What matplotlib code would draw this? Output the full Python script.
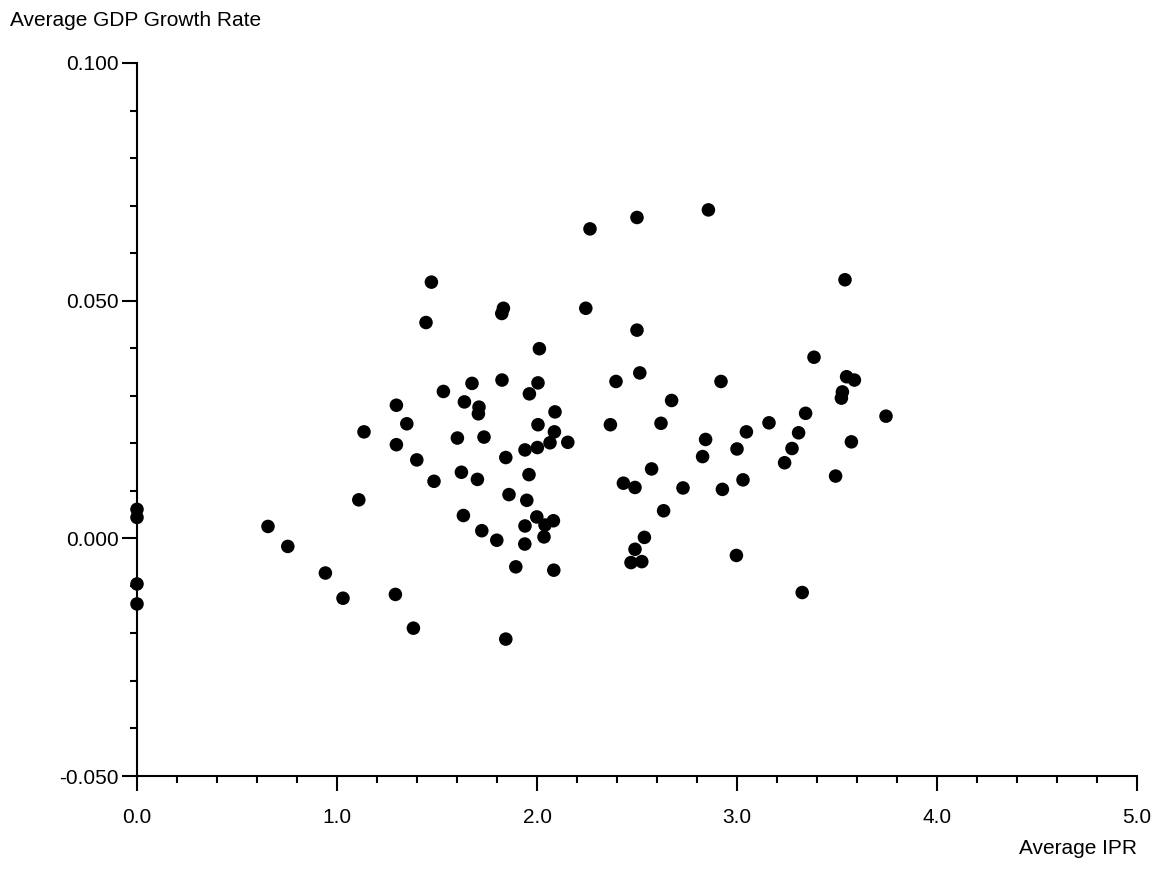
import matplotlib
matplotlib.use("Agg")
import matplotlib.pyplot as plt
from matplotlib.ticker import MultipleLocator, FormatStrFormatter

# average IPR score and average GDP growth rate, one entry per country
ipr = [0.0, 0.0, 0.0, 0.0,
       0.655, 0.754, 0.942, 1.03, 1.109, 1.135, 1.292, 1.297, 1.297, 1.349,
       1.382, 1.399, 1.445, 1.472, 1.485, 1.532, 1.602, 1.622, 1.632, 1.637,
       1.675, 1.702, 1.707, 1.71, 1.724, 1.735, 1.799, 1.824, 1.825, 1.832,
       1.844, 1.844, 1.86, 1.894, 1.939, 1.94, 1.94, 1.949, 1.96, 1.962,
       1.999, 2.002, 2.005, 2.005, 2.012, 2.035, 2.04, 2.065, 2.082, 2.084,
       2.087, 2.09, 2.154, 2.244, 2.265, 2.367, 2.395, 2.432, 2.47, 2.49,
       2.49, 2.50, 2.50, 2.514, 2.524, 2.537, 2.573, 2.62, 2.633, 2.673,
       2.73, 2.828, 2.843, 2.857, 2.92, 2.927, 2.997, 3.0, 3.03, 3.047,
       3.16, 3.238, 3.275, 3.308, 3.326, 3.343, 3.385, 3.493, 3.522, 3.527,
       3.54, 3.548, 3.572, 3.587, 3.745]
gdp = [0.0061, 0.0044, -0.0096, -0.0138,
       0.0025, -0.0017, -0.0073, -0.0126, 0.0081, 0.0224, -0.0118, 0.0280, 0.0197, 0.0241,
       -0.0189, 0.0165, 0.0454, 0.0539, 0.0120, 0.0309, 0.0211, 0.0139, 0.0048, 0.0287,
       0.0326, 0.0124, 0.0262, 0.0276, 0.0016, 0.0213, -0.0004, 0.0473, 0.0333, 0.0484,
       0.0170, -0.0212, 0.0092, -0.0060, -0.0012, 0.0186, 0.0026, 0.0080, 0.0134, 0.0304,
       0.0045, 0.0191, 0.0327, 0.0239, 0.0399, 0.0003, 0.0028, 0.0201, 0.0037, -0.0067,
       0.0224, 0.0266, 0.0202, 0.0484, 0.0651, 0.0239, 0.0330, 0.0116, -0.0051, 0.0107,
       -0.0023, 0.0675, 0.0438, 0.0348, -0.0049, 0.0002, 0.0146, 0.0242, 0.0058, 0.0290,
       0.0106, 0.0172, 0.0208, 0.0691, 0.0330, 0.0103, -0.0036, 0.0188, 0.0123, 0.0224,
       0.0243, 0.0159, 0.0189, 0.0222, -0.0114, 0.0263, 0.0381, 0.0131, 0.0295, 0.0308,
       0.0544, 0.0340, 0.0203, 0.0333, 0.0257]

plt.rcParams['font.family'] = ['Liberation Sans', 'DejaVu Sans']

fig = plt.figure(figsize=(11.58, 8.91), dpi=100)
ax = fig.add_axes([137 / 1158, 1 - 776 / 891, 1000 / 1158, 713 / 891])

ax.scatter(ipr, gdp, s=95, c='black', edgecolors='none', clip_on=False, zorder=3)

ax.set_xlim(0, 5)
ax.set_ylim(-0.05, 0.1)

ax.spines['top'].set_visible(False)
ax.spines['right'].set_visible(False)
ax.spines['left'].set_linewidth(1.5)
ax.spines['bottom'].set_linewidth(1.5)

ax.xaxis.set_major_locator(MultipleLocator(1))
ax.xaxis.set_minor_locator(MultipleLocator(0.2))
ax.yaxis.set_major_locator(MultipleLocator(0.05))
ax.yaxis.set_minor_locator(MultipleLocator(0.01))
ax.xaxis.set_major_formatter(FormatStrFormatter('%.1f'))
ax.yaxis.set_major_formatter(FormatStrFormatter('%.3f'))

ax.tick_params(axis='both', which='major', length=11, width=1.5, labelsize=15)
ax.tick_params(axis='both', which='minor', length=5, width=1.5)
ax.tick_params(axis='x', which='major', pad=12)
ax.tick_params(axis='y', which='major', pad=2)

fig.text(10 / 1158, 1 - 20 / 891, 'Average GDP Growth Rate', ha='left', va='center', fontsize=15)
fig.text(1137 / 1158, 1 - 848 / 891, 'Average IPR', ha='right', va='center', fontsize=15)

fig.savefig('out.png', dpi=100, facecolor='white')
